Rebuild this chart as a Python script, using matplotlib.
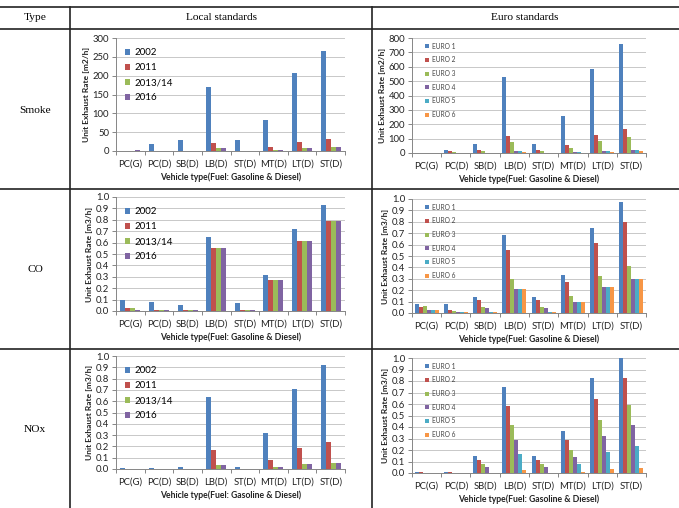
import matplotlib
matplotlib.use('Agg')
import matplotlib.pyplot as plt
from matplotlib.lines import Line2D
from matplotlib.ticker import FormatStrFormatter
import numpy as np

vehicles = ['PC(G)', 'PC(D)', 'SB(D)', 'LB(D)', 'ST(D)', 'MT(D)', 'LT(D)', 'ST(D)']
local_labels = ['2002', '2011', '2013/14', '2016']
euro_labels = ['EURO 1', 'EURO 2', 'EURO 3', 'EURO 4', 'EURO 5', 'EURO 6']

# one list per series, values per vehicle type
smoke_local = [
    [0.5, 18, 29, 171, 30, 82, 207, 265],
    [0.5, 1, 1, 22, 1, 11, 25, 33],
    [0.5, 1, 1, 7, 1, 3, 8, 11],
    [1.5, 1, 1, 7, 1, 3, 8, 11],
]
smoke_euro = [
    [1, 20, 62, 528, 62, 258, 583, 757],
    [1, 14, 22, 115, 22, 55, 128, 167],
    [0.5, 5, 15, 75, 15, 38, 85, 108],
    [0.5, 3, 2, 14, 2, 7, 14, 22],
    [0.5, 2, 1, 14, 1, 7, 14, 22],
    [0.5, 1, 1, 7, 1, 3, 7, 11],
]
co_local = [
    [0.10, 0.08, 0.05, 0.65, 0.07, 0.32, 0.72, 0.93],
    [0.025, 0.012, 0.012, 0.55, 0.012, 0.27, 0.61, 0.79],
    [0.025, 0.012, 0.012, 0.55, 0.012, 0.27, 0.61, 0.79],
    [0.01, 0.012, 0.012, 0.55, 0.012, 0.27, 0.61, 0.79],
]
co_euro = [
    [0.08, 0.075, 0.14, 0.68, 0.14, 0.335, 0.75, 0.975],
    [0.055, 0.025, 0.11, 0.555, 0.11, 0.27, 0.61, 0.795],
    [0.065, 0.015, 0.055, 0.295, 0.055, 0.145, 0.325, 0.415],
    [0.025, 0.012, 0.04, 0.21, 0.04, 0.10, 0.23, 0.30],
    [0.025, 0.012, 0.012, 0.21, 0.012, 0.10, 0.23, 0.30],
    [0.025, 0.012, 0.012, 0.21, 0.012, 0.10, 0.23, 0.30],
]
nox_local = [
    [0.005, 0.01, 0.02, 0.64, 0.02, 0.315, 0.71, 0.92],
    [0.002, 0.002, 0.0, 0.165, 0.0, 0.08, 0.185, 0.235],
    [0.001, 0.001, 0.0, 0.035, 0.0, 0.015, 0.04, 0.055],
    [0.001, 0.001, 0.0, 0.035, 0.0, 0.015, 0.04, 0.055],
]
nox_euro = [
    [0.012, 0.012, 0.15, 0.745, 0.15, 0.365, 0.825, 1.0],
    [0.006, 0.008, 0.115, 0.58, 0.115, 0.285, 0.645, 0.83],
    [0.0, 0.004, 0.08, 0.415, 0.08, 0.20, 0.46, 0.595],
    [0.0, 0.0, 0.055, 0.29, 0.055, 0.14, 0.32, 0.415],
    [0.0, 0.0, 0.0, 0.165, 0.0, 0.08, 0.185, 0.235],
    [0.0, 0.0, 0.0, 0.03, 0.0, 0.012, 0.035, 0.045],
]

colors = ['#4F81BD', '#C0504D', '#9BBB59', '#8064A2', '#4BACC6', '#F79646']

W, H = 679, 508
fig = plt.figure(figsize=(W / 100, H / 100), dpi=100)
fig.patch.set_facecolor('white')

chart_font = 'Lato'


def box(left, top, right, bottom):
    return [left / W, 1 - bottom / H, (right - left) / W, (bottom - top) / H]


def draw_chart(rect, series, labels, ymax, ystep, ylabel, fmt, euro):
    ax = fig.add_axes(rect)
    n = len(series)
    group = 0.82 if euro else 0.7
    bw = group / n
    x = np.arange(len(vehicles))
    for i, vals in enumerate(series):
        ax.bar(x - group / 2 + bw * (i + 0.5), vals, bw, color=colors[i],
               label=labels[i], zorder=3, linewidth=0)
    ax.set_xlim(-0.5, len(vehicles) - 0.5)
    ax.set_ylim(0, ymax)
    ax.set_yticks(np.arange(0, ymax + ystep / 2, ystep))
    ax.yaxis.set_major_formatter(FormatStrFormatter(fmt))
    ax.set_xticks(x)
    ax.set_xticklabels(vehicles)
    ax.set_xticks(np.arange(-0.5, len(vehicles), 1), minor=True)
    ax.tick_params(axis='x', which='major', length=0, pad=6, labelsize=6.8)
    ax.tick_params(axis='x', which='minor', length=3, color='#868686', width=0.7)
    ax.tick_params(axis='y', length=3, color='#868686', width=0.7, labelsize=6.8, pad=2)
    for lab in ax.get_xticklabels() + ax.get_yticklabels():
        lab.set_family(chart_font)
        lab.set_color('#222222')
    ax.grid(axis='y', color='#c8c8c8', lw=0.7, zorder=0)
    for s in ['top', 'right']:
        ax.spines[s].set_visible(False)
    for s in ['left', 'bottom']:
        ax.spines[s].set_color('#868686')
        ax.spines[s].set_linewidth(0.7)
    ax.set_xlabel('Vehicle type(Fuel: Gasoline & Diesel)', fontsize=6.2,
                  fontweight='bold', family=chart_font, labelpad=3, color='#222222')
    ax.set_ylabel(ylabel, fontsize=6, fontweight='bold', family=chart_font,
                  labelpad=2, color='#222222')
    if euro:
        leg = ax.legend(loc='upper left', bbox_to_anchor=(0.035, 1.0), frameon=False,
                        prop={'family': chart_font, 'size': 4.8},
                        handlelength=0.6, handleheight=0.6, handletextpad=0.4,
                        labelspacing=1.0, borderaxespad=0.3)
        for t in leg.get_texts():
            t.set_color('#444444')
    else:
        ax.legend(loc='upper left', bbox_to_anchor=(0.01, 0.97), frameon=False,
                  prop={'family': chart_font, 'size': 7},
                  handlelength=0.55, handleheight=0.55, handletextpad=0.4,
                  labelspacing=0.62, borderaxespad=0.3)
    return ax


draw_chart(box(116, 38, 345, 151), smoke_local, local_labels, 300, 50,
           'Unit Exhaust Rate [m2/h]', '%d', False)
draw_chart(box(412, 38, 646, 153), smoke_euro, euro_labels, 800, 100,
           'Unit Exhaust Rate [m2/h]', '%d', True)
draw_chart(box(116, 197, 345, 311), co_local, local_labels, 1.0, 0.1,
           'Unit Exhaust Rate [m3/h]', '%.1f', False)
draw_chart(box(412, 199, 646, 313), co_euro, euro_labels, 1.0, 0.1,
           'Unit Exhaust Rate [m3/h]', '%.1f', True)
draw_chart(box(116, 356, 345, 469), nox_local, local_labels, 1.0, 0.1,
           'Unit Exhaust Rate [m3/h]', '%.1f', False)
draw_chart(box(412, 358, 646, 473), nox_euro, euro_labels, 1.0, 0.1,
           'Unit Exhaust Rate [m3/h]', '%.1f', True)


# table frame
def hline(y, x0=0, x1=W):
    fig.add_artist(Line2D([x0 / W, x1 / W], [1 - y / H, 1 - y / H], color='#222222', lw=1.2))


def vline(x, y0=7, y1=H):
    fig.add_artist(Line2D([x / W, x / W], [1 - y0 / H, 1 - y1 / H], color='#222222', lw=1.2))


hline(7)
hline(29)
hline(189)
hline(349)
vline(70)
vline(372)

serif = 'Liberation Serif'
fs = 8.2
fig.text(35 / W, 1 - 18 / H, 'Type', ha='center', va='center', family=serif, fontsize=fs)
fig.text(221 / W, 1 - 18 / H, 'Local standards', ha='center', va='center', family=serif, fontsize=fs)
fig.text(525 / W, 1 - 18 / H, 'Euro standards', ha='center', va='center', family=serif, fontsize=fs)
fig.text(35 / W, 1 - 110 / H, 'Smoke', ha='center', va='center', family=serif, fontsize=fs)
fig.text(35 / W, 1 - 270 / H, 'CO', ha='center', va='center', family=serif, fontsize=fs)
fig.text(35 / W, 1 - 430 / H, 'NOx', ha='center', va='center', family=serif, fontsize=fs)

fig.savefig('out.png', dpi=100, facecolor='white')
